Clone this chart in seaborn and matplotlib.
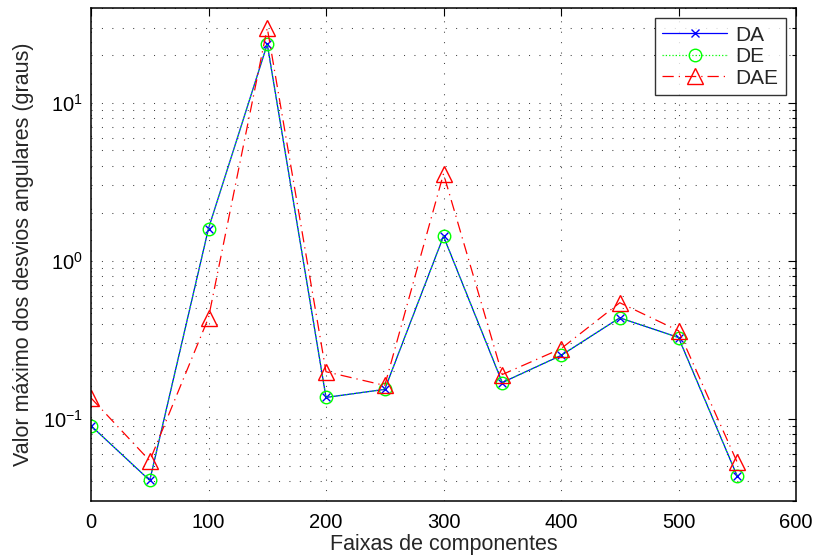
import numpy as np
import pandas as pd
import matplotlib
matplotlib.use("Agg")
import matplotlib.pyplot as plt
import seaborn as sns
from matplotlib.ticker import LogLocator, FixedLocator

faixas = [0, 50, 100, 150, 200, 250, 300, 350, 400, 450, 500, 550]
da = [0.090, 0.0405, 1.60, 23.6, 0.136, 0.153, 1.43, 0.169, 0.251, 0.435, 0.326, 0.0431]
de = [0.090, 0.0405, 1.60, 23.6, 0.136, 0.153, 1.43, 0.169, 0.251, 0.435, 0.326, 0.0431]
dae = [0.135, 0.054, 0.435, 29.9, 0.198, 0.162, 3.56, 0.190, 0.277, 0.542, 0.360, 0.0527]
x_ticks = [0, 100, 200, 300, 400, 500, 600]

sns.set_style("white")
plt.rcParams['font.family'] = ['Liberation Sans', 'DejaVu Sans']
plt.rcParams['mathtext.fontset'] = 'custom'
plt.rcParams['mathtext.rm'] = 'Liberation Sans'

df = pd.DataFrame({"x": faixas, "DA": da, "DE": de, "DAE": dae})

fig = plt.figure(figsize=(8.16, 5.58), dpi=100)
ax = fig.add_axes([91/816, 1 - 501/558, 705/816, 493/558])

sns.lineplot(data=df, x="x", y="DA", ax=ax, color="#0000ff", linestyle="-", marker="x",
             markersize=6, markeredgecolor="#0000ff", markeredgewidth=1.0, linewidth=0.9,
             label="DA")
sns.lineplot(data=df, x="x", y="DE", ax=ax, color="#00ff00", linestyle=":", marker="o",
             markersize=9, markerfacecolor="none", markeredgecolor="#00ff00", markeredgewidth=1.0,
             linewidth=0.9, label="DE")
sns.lineplot(data=df, x="x", y="DAE", ax=ax, color="#ff0000", linestyle="-.", marker="^",
             markersize=11.5, markerfacecolor="none", markeredgecolor="#ff0000", markeredgewidth=1.0,
             linewidth=0.9, label="DAE")
ax.lines[-1].set_linestyle((0, (9, 4, 1, 4)))

ax.set_yscale("log")
ax.set_xlim(0, 600)
ax.set_ylim(0.03, 40)
ax.xaxis.set_major_locator(FixedLocator(x_ticks))
ax.yaxis.set_major_locator(LogLocator(base=10, numticks=10))
ax.yaxis.set_minor_locator(LogLocator(base=10, subs=np.arange(2, 10), numticks=20))

grid_ls = (0, (1, 9))
ax.grid(True, which="major", axis="both", color="#444444", linestyle=grid_ls, linewidth=0.75)
ax.grid(True, which="minor", axis="y", color="#444444", linestyle=grid_ls, linewidth=0.75)
ax.set_axisbelow(True)

ax.tick_params(which="both", direction="in", top=True, right=True, labelsize=14.5, colors="black")
ax.tick_params(which="major", length=6, width=0.8)
ax.tick_params(which="minor", length=3, width=0.8)
ax.tick_params(axis="x", pad=9)
ax.tick_params(axis="y", pad=6)
for s in ax.spines.values():
    s.set_visible(True)
    s.set_color("black")
    s.set_linewidth(1.1)

ax.set_xlabel("Faixas de componentes", fontsize=15.5, labelpad=1)
ax.set_ylabel("Valor máximo dos desvios angulares (graus)", fontsize=15.5, labelpad=6)

leg = ax.legend(loc="upper right", fontsize=15, frameon=True, fancybox=False, edgecolor="black",
                handlelength=3.1, borderaxespad=0.5, labelspacing=0.12, borderpad=0.35,
                handletextpad=0.4)
leg.get_frame().set_linewidth(1.0)

fig.savefig("out.png", dpi=100)
